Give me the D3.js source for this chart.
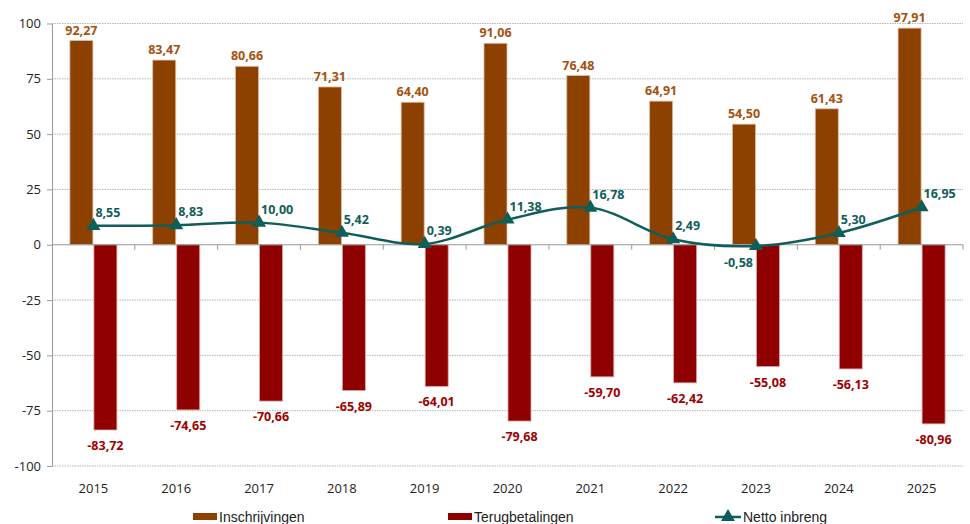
<!DOCTYPE html>
<html>
<head>
<meta charset="utf-8">
<script src="https://cdn.jsdelivr.net/npm/d3@7"></script>
<style>
  body { margin: 0; background: #fff; }
  svg { display: block; }
</style>
</head>
<body>
<svg id="chart" width="970" height="524"></svg>
<script>
// chart data
const years = ["2015", "2016", "2017", "2018", "2019", "2020", "2021", "2022", "2023", "2024", "2025"];
const inschrijvingen = [92.27, 83.47, 80.66, 71.31, 64.40, 91.06, 76.48, 64.91, 54.50, 61.43, 97.91];
const terugbetalingen = [-83.72, -74.65, -70.66, -65.89, -64.01, -79.68, -59.70, -62.42, -55.08, -56.13, -80.96];
const netto = [8.55, 8.83, 10.00, 5.42, 0.39, 11.38, 16.78, 2.49, -0.58, 5.30, 16.95];
const yTicks = [-100, -75, -50, -25, 0, 25, 50, 75, 100];
const seriesNames = ["Inschrijvingen", "Terugbetalingen", "Netto inbreng"];

const colOrange = "#8c4100", colRed = "#8f0000", colTeal = "#0f5e5a";
const lblOrange = "#a5520f", lblRed = "#a00000", lblTeal = "#0f5e5a";

const svg = d3.select("#chart");
const plotLeft = 52, plotRight = 963, plotTop = 23.5, plotBottom = 466;

// Dutch style numbers, plain hyphen for negatives
const nl = d3.formatLocale({ decimal: ",", thousands: ".", grouping: [3], currency: ["€", ""], minus: "-" });
const fmt = nl.format(".2f");
const tickFmt = nl.format("d");

const x = d3.scaleBand().domain(years).range([plotLeft, plotRight]);
const y = d3.scaleLinear().domain([-100, 100]).range([plotBottom, plotTop]);

// gridlines
svg.append("g").selectAll("line")
    .data(yTicks.filter(d => d !== 0))
    .join("line")
    .attr("x1", plotLeft).attr("x2", plotRight)
    .attr("y1", d => y(d)).attr("y2", d => y(d))
    .attr("stroke", "#b5b5b5")
    .attr("stroke-width", 1)
    .attr("stroke-dasharray", "1.5,1");

// y axis
const yAxis = svg.append("g")
    .attr("transform", `translate(${plotLeft},0)`)
    .call(d3.axisLeft(y).tickValues(yTicks).tickFormat(tickFmt).tickSize(5).tickSizeOuter(0).tickPadding(6));
yAxis.select(".domain").attr("stroke", "#999");
yAxis.selectAll(".tick line").attr("stroke", "#999");
yAxis.selectAll("text")
    .attr("font-family", "'Open Sans', sans-serif")
    .attr("font-size", 13)
    .attr("fill", "#222");

// bars
const bw = 23;
svg.append("g").selectAll("rect")
    .data(inschrijvingen)
    .join("rect")
    .attr("x", (d, i) => x(years[i]) + x.bandwidth() / 2 - bw - 0.5)
    .attr("y", d => y(d))
    .attr("width", bw)
    .attr("height", d => y(0) - y(d))
    .attr("fill", colOrange)
    .attr("stroke", "#e0b8a0")
    .attr("stroke-width", 0.8);

svg.append("g").selectAll("rect")
    .data(terugbetalingen)
    .join("rect")
    .attr("x", (d, i) => x(years[i]) + x.bandwidth() / 2 + 0.5)
    .attr("y", y(0))
    .attr("width", bw)
    .attr("height", d => y(d) - y(0))
    .attr("fill", colRed)
    .attr("stroke", "#e0a8a8")
    .attr("stroke-width", 0.8);

// x axis (zero line + category ticks)
const xAxis = svg.append("g")
    .attr("transform", `translate(0,${y(0)})`);
xAxis.append("line")
    .attr("x1", plotLeft).attr("x2", plotRight)
    .attr("stroke", "#999").attr("stroke-width", 1);
xAxis.selectAll(".cat-tick")
    .data(years)
    .join("line")
    .attr("class", "cat-tick")
    .attr("x1", d => x(d) + x.bandwidth())
    .attr("x2", d => x(d) + x.bandwidth())
    .attr("y1", 0).attr("y2", 5)
    .attr("stroke", "#999");

// year labels
svg.append("g").selectAll("text")
    .data(years)
    .join("text")
    .attr("x", d => x(d) + x.bandwidth() / 2)
    .attr("y", 493)
    .attr("text-anchor", "middle")
    .attr("font-family", "'Open Sans', sans-serif")
    .attr("font-size", 13)
    .attr("fill", "#222")
    .text(d => d);

// netto line
const pts = netto.map((v, i) => [x(years[i]) + x.bandwidth() / 2, y(v)]);
svg.append("path")
    .datum(pts)
    .attr("d", d3.line().curve(d3.curveCatmullRom.alpha(0.5)))
    .attr("fill", "none")
    .attr("stroke", colTeal)
    .attr("stroke-width", 2.5);

const tri = d3.symbol().type(d3.symbolTriangle).size(85);
svg.append("g").selectAll("path")
    .data(pts)
    .join("path")
    .attr("transform", d => `translate(${d[0]},${d[1]})`)
    .attr("d", tri)
    .attr("fill", colTeal);

// data labels
const lblFont = "'Open Sans', sans-serif";
svg.append("g").selectAll("text")
    .data(inschrijvingen)
    .join("text")
    .attr("x", (d, i) => x(years[i]) + x.bandwidth() / 2 - bw / 2 - 0.5)
    .attr("y", d => y(d) - 6)
    .attr("text-anchor", "middle")
    .attr("font-family", lblFont)
    .attr("font-weight", "bold")
    .attr("font-size", 12.5)
    .attr("fill", lblOrange)
    .text(d => fmt(d));

svg.append("g").selectAll("text")
    .data(terugbetalingen)
    .join("text")
    .attr("x", (d, i) => x(years[i]) + x.bandwidth() / 2 + bw / 2 + 0.5)
    .attr("y", d => y(d) + 20)
    .attr("text-anchor", "middle")
    .attr("font-family", lblFont)
    .attr("font-weight", "bold")
    .attr("font-size", 12.5)
    .attr("fill", lblRed)
    .text(d => fmt(d));

svg.append("g").selectAll("text")
    .data(netto)
    .join("text")
    .attr("x", (d, i) => d < 0 ? pts[i][0] - 3 : pts[i][0] + 2)
    .attr("y", (d, i) => d < 0 ? pts[i][1] + 21 : pts[i][1] - 9)
    .attr("text-anchor", d => d < 0 ? "end" : "start")
    .attr("font-family", lblFont)
    .attr("font-weight", "bold")
    .attr("font-size", 12.5)
    .attr("fill", lblTeal)
    .text(d => fmt(d));

// legend
const legendX = [193, 448, 715];
const legend = svg.append("g");
seriesNames.forEach((name, i) => {
    const g = legend.append("g").attr("transform", `translate(${legendX[i]},517)`);
    if (i < 2) {
        g.append("rect")
            .attr("x", 0).attr("y", -4)
            .attr("width", 24).attr("height", 7)
            .attr("fill", i === 0 ? colOrange : colRed);
    } else {
        g.append("line")
            .attr("x1", 0).attr("x2", 26)
            .attr("y1", 0).attr("y2", 0)
            .attr("stroke", colTeal).attr("stroke-width", 2.5);
        g.append("path")
            .attr("transform", "translate(13,0)")
            .attr("d", tri)
            .attr("fill", colTeal);
    }
    g.append("text")
        .attr("x", i < 2 ? 26 : 28)
        .attr("y", 5)
        .attr("font-family", "'Liberation Sans Narrow', 'Arial Narrow', sans-serif")
        .attr("font-size", 14)
        .attr("fill", "#222")
        .text(name);
});
</script>
</body>
</html>
